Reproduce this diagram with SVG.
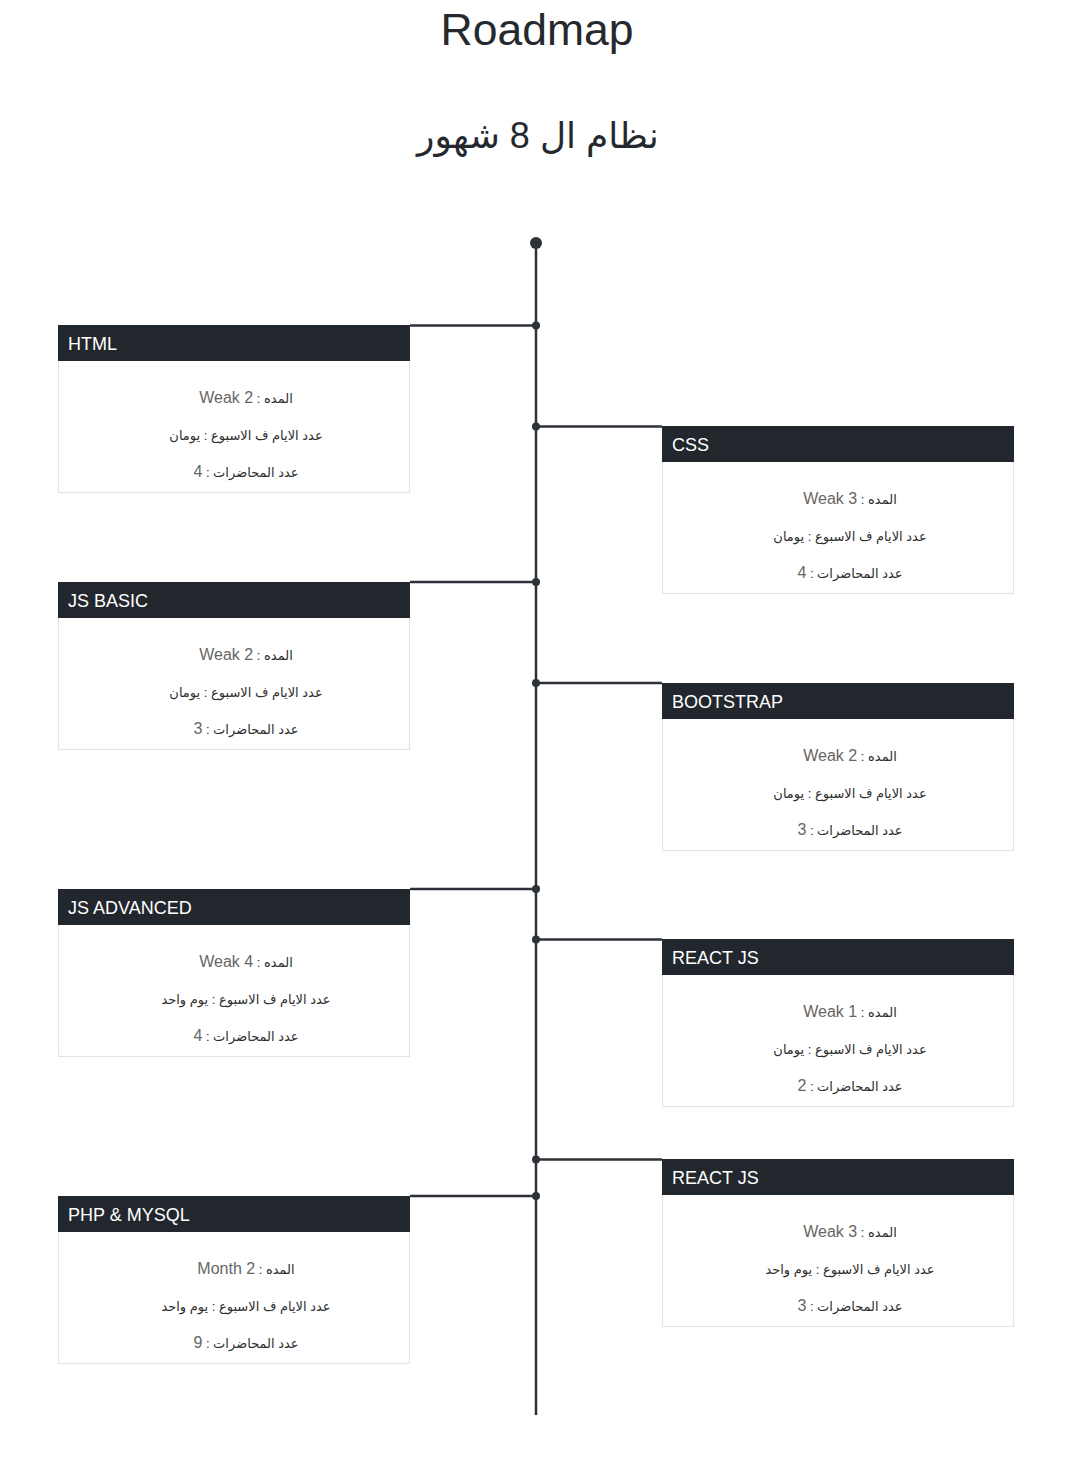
<svg xmlns="http://www.w3.org/2000/svg" width="1080" height="1465" viewBox="0 0 1080 1465">
<style>
.bg{fill:#ffffff}
.title{font-family:"Liberation Sans","DejaVu Sans",sans-serif;fill:#25292e;text-anchor:middle}
.hdr{fill:#22272e}
.body{fill:#ffffff;stroke:#e4e4e4;stroke-width:1.2}
.htxt{font-family:"Liberation Sans",Arial,sans-serif;font-size:18px;fill:#ffffff}
.line{font-family:"Liberation Sans","DejaVu Sans",sans-serif;text-anchor:middle;direction:rtl}
.lbl{font-size:13px;fill:#2e2e2e}
.val{font-size:16px;fill:#666666}
.conn{stroke:#2d3238;stroke-width:2.5;fill:none}
.dot{fill:#2d3238}
</style>
<defs>
<g id="cardshape">
<rect class="body" x="0.5" y="0.5" width="351" height="167"/>
<rect class="hdr" x="0" y="0" width="352" height="36"/>
</g>
</defs>
<rect class="bg" width="1080" height="1465"/>
<text class="title" x="537" y="45" font-size="44.5">Roadmap</text>
<text class="title" x="538" y="148" font-size="36" direction="rtl">نظام ال 8 شهور</text>

<g id="connectors">
<line class="conn" x1="536" y1="243" x2="536" y2="1415"/>
<circle class="dot" cx="536" cy="243" r="6"/>
<line class="conn" x1="410" y1="325.5" x2="536" y2="325.5"/><circle class="dot" cx="536" cy="325.5" r="4"/>
<line class="conn" x1="536" y1="426.5" x2="662" y2="426.5"/><circle class="dot" cx="536" cy="426.5" r="4"/>
<line class="conn" x1="410" y1="582" x2="536" y2="582"/><circle class="dot" cx="536" cy="582" r="4"/>
<line class="conn" x1="536" y1="683" x2="662" y2="683"/><circle class="dot" cx="536" cy="683" r="4"/>
<line class="conn" x1="410" y1="889" x2="536" y2="889"/><circle class="dot" cx="536" cy="889" r="4"/>
<line class="conn" x1="536" y1="939.5" x2="662" y2="939.5"/><circle class="dot" cx="536" cy="939.5" r="4"/>
<line class="conn" x1="536" y1="1159.5" x2="662" y2="1159.5"/><circle class="dot" cx="536" cy="1159.5" r="4"/>
<line class="conn" x1="410" y1="1196" x2="536" y2="1196"/><circle class="dot" cx="536" cy="1196" r="4"/>
</g>

<g id="html" transform="translate(58,325)">
<use href="#cardshape"/>
<text class="htxt" x="10" y="24.5">HTML</text>
<text class="line" x="188" y="78"><tspan class="lbl">المده : </tspan><tspan class="val">Weak 2</tspan></text>
<text class="line" x="188" y="115"><tspan class="lbl">عدد الايام ف الاسبوع : </tspan><tspan class="lbl" fill="#777">يومان</tspan></text>
<text class="line" x="188" y="152"><tspan class="lbl">عدد المحاضرات : </tspan><tspan class="val">4</tspan></text>
</g>

<g id="css" transform="translate(662,426)">
<use href="#cardshape"/>
<text class="htxt" x="10" y="24.5">CSS</text>
<text class="line" x="188" y="78"><tspan class="lbl">المده : </tspan><tspan class="val">Weak 3</tspan></text>
<text class="line" x="188" y="115"><tspan class="lbl">عدد الايام ف الاسبوع : </tspan><tspan class="lbl" fill="#777">يومان</tspan></text>
<text class="line" x="188" y="152"><tspan class="lbl">عدد المحاضرات : </tspan><tspan class="val">4</tspan></text>
</g>

<g id="jsbasic" transform="translate(58,582)">
<use href="#cardshape"/>
<text class="htxt" x="10" y="24.5">JS BASIC</text>
<text class="line" x="188" y="78"><tspan class="lbl">المده : </tspan><tspan class="val">Weak 2</tspan></text>
<text class="line" x="188" y="115"><tspan class="lbl">عدد الايام ف الاسبوع : </tspan><tspan class="lbl" fill="#777">يومان</tspan></text>
<text class="line" x="188" y="152"><tspan class="lbl">عدد المحاضرات : </tspan><tspan class="val">3</tspan></text>
</g>

<g id="bootstrap" transform="translate(662,683)">
<use href="#cardshape"/>
<text class="htxt" x="10" y="24.5">BOOTSTRAP</text>
<text class="line" x="188" y="78"><tspan class="lbl">المده : </tspan><tspan class="val">Weak 2</tspan></text>
<text class="line" x="188" y="115"><tspan class="lbl">عدد الايام ف الاسبوع : </tspan><tspan class="lbl" fill="#777">يومان</tspan></text>
<text class="line" x="188" y="152"><tspan class="lbl">عدد المحاضرات : </tspan><tspan class="val">3</tspan></text>
</g>

<g id="jsadvanced" transform="translate(58,889)">
<use href="#cardshape"/>
<text class="htxt" x="10" y="24.5">JS ADVANCED</text>
<text class="line" x="188" y="78"><tspan class="lbl">المده : </tspan><tspan class="val">Weak 4</tspan></text>
<text class="line" x="188" y="115"><tspan class="lbl">عدد الايام ف الاسبوع : </tspan><tspan class="lbl" fill="#777">يوم واحد</tspan></text>
<text class="line" x="188" y="152"><tspan class="lbl">عدد المحاضرات : </tspan><tspan class="val">4</tspan></text>
</g>

<g id="reactjs1" transform="translate(662,939)">
<use href="#cardshape"/>
<text class="htxt" x="10" y="24.5">REACT JS</text>
<text class="line" x="188" y="78"><tspan class="lbl">المده : </tspan><tspan class="val">Weak 1</tspan></text>
<text class="line" x="188" y="115"><tspan class="lbl">عدد الايام ف الاسبوع : </tspan><tspan class="lbl" fill="#777">يومان</tspan></text>
<text class="line" x="188" y="152"><tspan class="lbl">عدد المحاضرات : </tspan><tspan class="val">2</tspan></text>
</g>

<g id="reactjs2" transform="translate(662,1159)">
<use href="#cardshape"/>
<text class="htxt" x="10" y="24.5">REACT JS</text>
<text class="line" x="188" y="78"><tspan class="lbl">المده : </tspan><tspan class="val">Weak 3</tspan></text>
<text class="line" x="188" y="115"><tspan class="lbl">عدد الايام ف الاسبوع : </tspan><tspan class="lbl" fill="#777">يوم واحد</tspan></text>
<text class="line" x="188" y="152"><tspan class="lbl">عدد المحاضرات : </tspan><tspan class="val">3</tspan></text>
</g>

<g id="phpmysql" transform="translate(58,1196)">
<use href="#cardshape"/>
<text class="htxt" x="10" y="24.5">PHP &amp; MYSQL</text>
<text class="line" x="188" y="78"><tspan class="lbl">المده : </tspan><tspan class="val">Month 2</tspan></text>
<text class="line" x="188" y="115"><tspan class="lbl">عدد الايام ف الاسبوع : </tspan><tspan class="lbl" fill="#777">يوم واحد</tspan></text>
<text class="line" x="188" y="152"><tspan class="lbl">عدد المحاضرات : </tspan><tspan class="val">9</tspan></text>
</g>
</svg>
